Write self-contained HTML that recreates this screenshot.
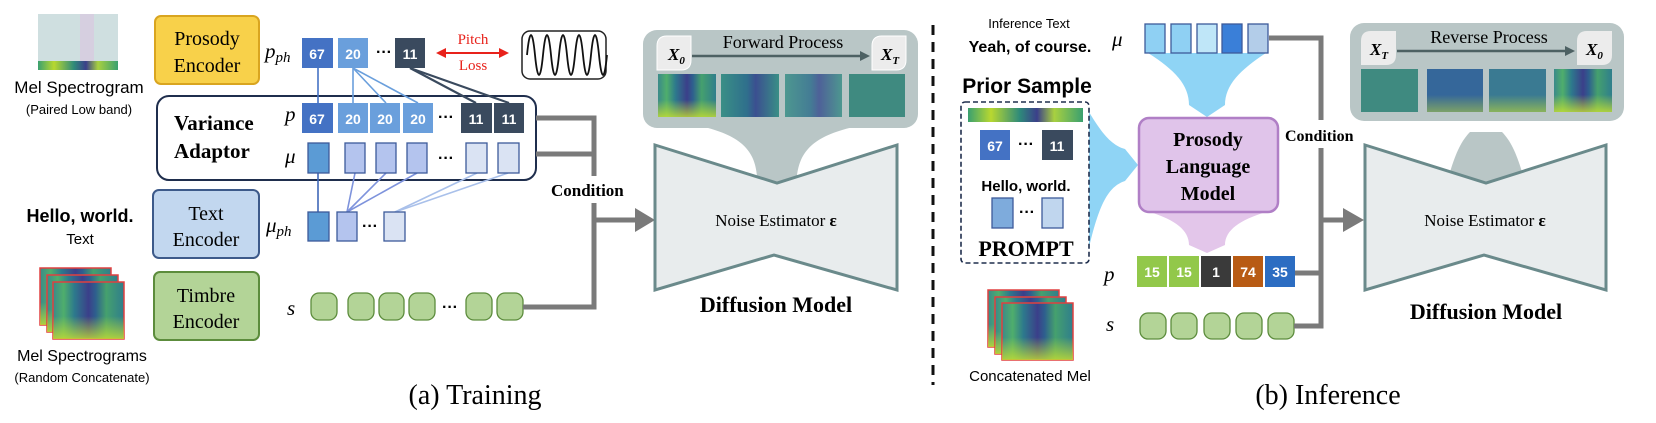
<!DOCTYPE html>
<html><head><meta charset="utf-8"><style>
html,body{margin:0;padding:0;background:#fff;}
svg{display:block}
.se{font-family:"Liberation Serif",serif}
.sa{font-family:"Liberation Sans",sans-serif}
.num{font-family:"Liberation Sans Narrow","Liberation Sans",sans-serif;font-weight:bold;font-size:14px;fill:#fff;text-anchor:middle}
</style></head><body>
<svg width="1656" height="423" viewBox="0 0 1656 423" xmlns="http://www.w3.org/2000/svg">
<defs>
<linearGradient id="spA" x1="0" x2="1" y1="0" y2="0">
<stop offset="0" stop-color="#3a8a8a"/><stop offset="0.15" stop-color="#4fae6c"/><stop offset="0.3" stop-color="#2d7a8c"/><stop offset="0.5" stop-color="#3b3f8a"/><stop offset="0.6" stop-color="#2e5f8e"/><stop offset="0.75" stop-color="#45a06e"/><stop offset="1" stop-color="#2f7e8c"/>
</linearGradient>
<linearGradient id="spB" x1="0" x2="1"><stop offset="0" stop-color="#3a8f86"/><stop offset="0.45" stop-color="#2f6f8c"/><stop offset="0.6" stop-color="#3b4f90"/><stop offset="1" stop-color="#3a8f86"/></linearGradient>
<linearGradient id="yel" x1="0" x2="0" y1="0" y2="1"><stop offset="0.6" stop-color="#c8e030" stop-opacity="0"/><stop offset="1" stop-color="#c8e030" stop-opacity="0.8"/></linearGradient>
<linearGradient id="band" x1="0" x2="1"><stop offset="0" stop-color="#3aa070"/><stop offset="0.2" stop-color="#b8d830"/><stop offset="0.45" stop-color="#2e8a7a"/><stop offset="0.6" stop-color="#3b3f8a"/><stop offset="0.75" stop-color="#a8d040"/><stop offset="1" stop-color="#3aa070"/></linearGradient>
<g id="mel"><rect width="71" height="57" fill="url(#spA)" stroke="#e04040" stroke-width="1.5"/><rect width="71" height="57" fill="url(#yel)"/></g>
</defs>

<!-- ===== (a) Training ===== -->
<rect x="38" y="14" width="80" height="56" fill="#cfdfe0"/>
<rect x="80" y="14" width="14" height="47" fill="#d6cfe0"/>
<rect x="38" y="61" width="80" height="9" fill="url(#band)"/>
<text class="sa" x="79" y="93" font-size="17" text-anchor="middle">Mel Spectrogram</text>
<text class="sa" x="79" y="114" font-size="13" text-anchor="middle">(Paired Low band)</text>
<text class="sa" x="80" y="222" font-size="18" font-weight="bold" text-anchor="middle">Hello, world.</text>
<text class="sa" x="80" y="244" font-size="15" text-anchor="middle">Text</text>
<use href="#mel" x="40" y="268"/><use href="#mel" x="47" y="275"/><use href="#mel" x="53" y="282"/>
<text class="sa" x="82" y="361" font-size="16" text-anchor="middle">Mel Spectrograms</text>
<text class="sa" x="82" y="382" font-size="13" text-anchor="middle">(Random Concatenate)</text>

<rect x="155" y="16" width="104" height="68" rx="6" fill="#f8d14a" stroke="#d9a520" stroke-width="2"/>
<text class="se" x="207" y="45" font-size="20" text-anchor="middle">Prosody</text>
<text class="se" x="207" y="72" font-size="20" text-anchor="middle">Encoder</text>
<rect x="157" y="96" width="379" height="84" rx="12" fill="#fff" stroke="#1f2e4d" stroke-width="2"/>
<text class="se" x="174" y="130" font-size="21" font-weight="bold">Variance</text>
<text class="se" x="174" y="158" font-size="21" font-weight="bold">Adaptor</text>
<rect x="153" y="190" width="106" height="68" rx="6" fill="#c2d7ef" stroke="#3d5a8a" stroke-width="2"/>
<text class="se" x="206" y="220" font-size="20" text-anchor="middle">Text</text>
<text class="se" x="206" y="246" font-size="20" text-anchor="middle">Encoder</text>
<rect x="154" y="272" width="105" height="68" rx="6" fill="#b3d497" stroke="#5c8c3c" stroke-width="2"/>
<text class="se" x="206" y="302" font-size="20" text-anchor="middle">Timbre</text>
<text class="se" x="206" y="328" font-size="20" text-anchor="middle">Encoder</text>

<g class="se" font-style="italic" font-size="21">
<text x="265" y="58">p<tspan font-size="15" dy="4">ph</tspan></text>
<text x="285" y="121">p</text>
<text x="285" y="163">μ</text>
<text x="266" y="232">μ<tspan font-size="15" dy="4">ph</tspan></text>
<text x="287" y="315">s</text>
</g>

<!-- connectors -->
<g stroke-width="1.6" fill="none">
<line x1="318" y1="68" x2="318" y2="103" stroke="#4472c4"/>
<line x1="353" y1="68" x2="353" y2="103" stroke="#6a9fdc"/>
<line x1="353" y1="68" x2="386" y2="103" stroke="#6a9fdc"/>
<line x1="353" y1="68" x2="418" y2="103" stroke="#6a9fdc"/>
<line x1="410" y1="68" x2="476" y2="103" stroke="#3a4a5e" stroke-width="2.2"/>
<line x1="410" y1="68" x2="509" y2="103" stroke="#3a4a5e" stroke-width="2.2"/>
<line x1="318" y1="173" x2="318" y2="212" stroke="#3f67b8"/>
<line x1="347" y1="212" x2="355" y2="173" stroke="#7e93dc"/>
<line x1="347" y1="212" x2="386" y2="173" stroke="#7e93dc"/>
<line x1="347" y1="212" x2="417" y2="173" stroke="#7e93dc"/>
<line x1="395" y1="212" x2="477" y2="173" stroke="#a9c0ea"/>
<line x1="395" y1="212" x2="508" y2="173" stroke="#a9c0ea"/>
</g>

<!-- p_ph -->
<rect x="302" y="38" width="31" height="30" fill="#4472c4"/><text class="num" x="317" y="59">67</text>
<rect x="338" y="38" width="30" height="30" fill="#6a9fdc"/><text class="num" x="353" y="59">20</text>
<text x="384" y="57" font-size="16" font-weight="bold" text-anchor="middle" class="sa">···</text>
<rect x="395" y="38" width="30" height="30" fill="#3a4a5e"/><text class="num" x="410" y="59">11</text>
<!-- pitch loss -->
<line x1="444" y1="53" x2="501" y2="53" stroke="#e8221b" stroke-width="2"/>
<polygon points="436,53 446,48 446,58" fill="#e8221b"/><polygon points="509,53 499,48 499,58" fill="#e8221b"/>
<text class="se" x="473" y="44" font-size="15" fill="#e8221b" text-anchor="middle">Pitch</text>
<text class="se" x="473" y="70" font-size="15" fill="#e8221b" text-anchor="middle">Loss</text>
<rect x="522" y="31" width="84" height="48" rx="8" fill="#fff" stroke="#222" stroke-width="1.5"/>
<path d="M527,55 q4,-40 8,0 t8,0 t8,0 t8,0 t8,0 t8,0 t8,0 t8,0 t8,0 t8,0" fill="none" stroke="#111" stroke-width="1.8"/>

<!-- p row -->
<rect x="302" y="103" width="31" height="30" fill="#4472c4"/><text class="num" x="317" y="124">67</text>
<rect x="338" y="103" width="30" height="30" fill="#6a9fdc"/><text class="num" x="353" y="124">20</text>
<rect x="370" y="103" width="30" height="30" fill="#6a9fdc"/><text class="num" x="385" y="124">20</text>
<rect x="403" y="103" width="30" height="30" fill="#6a9fdc"/><text class="num" x="418" y="124">20</text>
<text x="446" y="122" font-size="16" font-weight="bold" text-anchor="middle" class="sa">···</text>
<rect x="461" y="103" width="31" height="30" fill="#3a4a5e"/><text class="num" x="476" y="124">11</text>
<rect x="494" y="103" width="30" height="30" fill="#3a4a5e"/><text class="num" x="509" y="124">11</text>
<!-- mu row -->
<g stroke="#3d5a9a" stroke-width="1.3">
<rect x="308" y="143" width="21" height="30" fill="#5b9bd5"/>
<rect x="345" y="143" width="20" height="30" fill="#b4c4ee"/>
<rect x="376" y="143" width="20" height="30" fill="#b4c4ee"/>
<rect x="407" y="143" width="20" height="30" fill="#b4c4ee"/>
<rect x="466" y="143" width="21" height="30" fill="#dae3f3"/>
<rect x="498" y="143" width="21" height="30" fill="#dae3f3"/>
<rect x="308" y="212" width="21" height="29" fill="#5b9bd5"/>
<rect x="337" y="212" width="20" height="29" fill="#b4c4ee"/>
<rect x="384" y="212" width="21" height="29" fill="#dae3f3"/>
</g>
<text x="446" y="163" font-size="16" font-weight="bold" text-anchor="middle" class="sa">···</text>
<text x="370" y="231" font-size="16" font-weight="bold" text-anchor="middle" class="sa">···</text>
<!-- s row -->
<g fill="#b3d497" stroke="#5c8c3c" stroke-width="1.3">
<rect x="311" y="293" width="26" height="27" rx="8"/><rect x="348" y="293" width="26" height="27" rx="8"/>
<rect x="379" y="293" width="25" height="27" rx="8"/><rect x="409" y="293" width="26" height="27" rx="8"/>
<rect x="466" y="293" width="26" height="27" rx="8"/><rect x="497" y="293" width="26" height="27" rx="8"/>
</g>
<text x="450" y="312" font-size="16" font-weight="bold" text-anchor="middle" class="sa">···</text>

<!-- condition left -->
<g stroke="#7a7a7a" stroke-width="5" fill="none">
<polyline points="536,118 594,118 594,176"/>
<line x1="536" y1="154" x2="594" y2="154"/>
<polyline points="594,203 594,307 523,307"/>
<line x1="594" y1="220" x2="637" y2="220"/>
</g>
<polygon points="635,208 655,220 635,232" fill="#7a7a7a"/>
<text class="se" x="551" y="196" font-size="17" font-weight="bold">Condition</text>

<!-- forward diffusion -->
<path d="M700,126 C740,135 755,150 757,176 L777,183 L797,176 C800,150 815,135 858,126 Z" fill="#b9c6c6"/>
<rect x="643" y="30" width="275" height="98" rx="14" fill="#b9c6c6"/>
<path d="M657,46 Q657,36 667,36 L691,36 L691,60 Q691,70 681,70 L657,70 Z" fill="#ececec" stroke="#fff" stroke-width="1"/>
<path d="M872,46 Q872,36 882,36 L906,36 L906,60 Q906,70 896,70 L872,70 Z" fill="#ececec" stroke="#fff" stroke-width="1"/>
<text class="se" x="668" y="60" font-size="17" font-weight="bold" font-style="italic">X<tspan font-size="11" dy="4">0</tspan></text>
<text class="se" x="881" y="60" font-size="17" font-weight="bold" font-style="italic">X<tspan font-size="11" dy="4">T</tspan></text>
<line x1="692" y1="56" x2="862" y2="56" stroke="#4d6163" stroke-width="2.5"/>
<polygon points="860,51 870,56 860,61" fill="#4d6163"/>
<text class="se" x="783" y="48" font-size="18" text-anchor="middle">Forward Process</text>
<rect x="658" y="74" width="58" height="43" fill="url(#spA)"/><rect x="658" y="74" width="58" height="43" fill="url(#yel)"/>
<rect x="721" y="74" width="58" height="43" fill="url(#spB)"/>
<rect x="785" y="74" width="57" height="43" fill="url(#spB)" opacity="0.85"/>
<rect x="849" y="74" width="56" height="43" fill="#3f8a80"/>
<path d="M655,145 L777,183 L897,145 L897,290 L774,255 L655,290 Z" fill="#e8eced" stroke="#6a8a8b" stroke-width="3"/>
<text class="se" x="776" y="226" font-size="17" text-anchor="middle">Noise Estimator <tspan font-weight="bold">ε</tspan></text>
<text class="se" x="776" y="312" font-size="22" font-weight="bold" text-anchor="middle">Diffusion Model</text>
<text class="se" x="475" y="404" font-size="28" text-anchor="middle">(a) Training</text>

<!-- divider -->
<line x1="933" y1="25" x2="933" y2="385" stroke="#111" stroke-width="3" stroke-dasharray="10,7"/>

<!-- ===== (b) Inference ===== -->
<text class="sa" x="1029" y="28" font-size="13" text-anchor="middle">Inference Text</text>
<text class="sa" x="1030" y="52" font-size="16" font-weight="bold" text-anchor="middle">Yeah, of course.</text>
<text class="sa" x="1027" y="93" font-size="21" font-weight="bold" text-anchor="middle">Prior Sample</text>
<path d="M1089,112 C1100,130 1110,145 1125,149 L1138,165 L1125,181 C1110,186 1100,200 1089,248 Z" fill="#8fd4f5"/>
<rect x="961" y="102" width="128" height="161" rx="4" fill="#fff" stroke="#1f2e4d" stroke-width="1.6" stroke-dasharray="5,3"/>
<rect x="968" y="108" width="115" height="14" fill="url(#band)"/>
<rect x="980" y="130" width="30" height="30" fill="#4472c4"/><text class="num" x="995" y="151">67</text>
<text x="1026" y="149" font-size="16" font-weight="bold" text-anchor="middle" class="sa">···</text>
<rect x="1042" y="130" width="31" height="30" fill="#3a4a5e"/><text class="num" x="1057" y="151">11</text>
<text class="sa" x="1026" y="191" font-size="15" font-weight="bold" text-anchor="middle">Hello, world.</text>
<rect x="992" y="198" width="21" height="30" fill="#7eabdc" stroke="#3d5a9a" stroke-width="1.3"/>
<text x="1027" y="217" font-size="16" font-weight="bold" text-anchor="middle" class="sa">···</text>
<rect x="1042" y="198" width="21" height="30" fill="#c0d6ee" stroke="#3d5a9a" stroke-width="1.3"/>
<text class="se" x="1026" y="256" font-size="22" font-weight="bold" text-anchor="middle">PROMPT</text>
<use href="#mel" x="988" y="290"/><use href="#mel" x="995" y="297"/><use href="#mel" x="1002" y="303"/>
<text class="sa" x="1030" y="381" font-size="15" text-anchor="middle">Concatenated Mel</text>

<path d="M1148,53 L1266,53 C1240,70 1225,85 1225,105 L1207,117 L1189,105 C1189,85 1175,70 1148,53 Z" fill="#8fd4f5"/>
<path d="M1150,212 L1266,212 C1240,220 1225,230 1225,245 L1207,253 L1189,245 C1189,230 1175,220 1150,212 Z" fill="#e3c6ea"/>
<text class="se" x="1112" y="46" font-size="21" font-style="italic">μ</text>
<g stroke="#3d5a9a" stroke-width="1.3">
<rect x="1145" y="24" width="20" height="29" fill="#8fd0f3"/>
<rect x="1171" y="24" width="20" height="29" fill="#8fd0f3"/>
<rect x="1197" y="24" width="20" height="29" fill="#bfe6f8"/>
<rect x="1222" y="24" width="20" height="29" fill="#3a7fd8"/>
<rect x="1248" y="24" width="20" height="29" fill="#b3cde9"/>
</g>
<rect x="1139" y="118" width="139" height="94" rx="10" fill="#e0c4ea" stroke="#b07fc6" stroke-width="2.5"/>
<g class="se" font-size="20" font-weight="bold" text-anchor="middle">
<text x="1208" y="146">Prosody</text><text x="1208" y="173">Language</text><text x="1208" y="200">Model</text></g>
<text class="se" x="1104" y="281" font-size="21" font-style="italic">p</text>
<text class="se" x="1106" y="331" font-size="21" font-style="italic">s</text>
<rect x="1137" y="256" width="30" height="31" fill="#92c84a"/><text class="num" x="1152" y="277">15</text>
<rect x="1169" y="256" width="30" height="31" fill="#92c84a"/><text class="num" x="1184" y="277">15</text>
<rect x="1201" y="256" width="30" height="31" fill="#3a3a3a"/><text class="num" x="1216" y="277">1</text>
<rect x="1233" y="256" width="30" height="31" fill="#b85b14"/><text class="num" x="1248" y="277">74</text>
<rect x="1265" y="256" width="30" height="31" fill="#2c6dc2"/><text class="num" x="1280" y="277">35</text>
<g fill="#b3d497" stroke="#5c8c3c" stroke-width="1.3">
<rect x="1140" y="313" width="26" height="26" rx="8"/><rect x="1171" y="313" width="26" height="26" rx="8"/>
<rect x="1204" y="313" width="26" height="26" rx="8"/><rect x="1236" y="313" width="26" height="26" rx="8"/>
<rect x="1268" y="313" width="26" height="26" rx="8"/></g>
<g stroke="#7a7a7a" stroke-width="5" fill="none">
<polyline points="1269,38 1321,38 1321,120"/>
<polyline points="1321,148 1321,326 1294,326"/>
<line x1="1295" y1="273" x2="1321" y2="273"/>
<line x1="1321" y1="220" x2="1345" y2="220"/>
</g>
<polygon points="1343,208 1364,220 1343,232" fill="#7a7a7a"/>
<text class="se" x="1285" y="141" font-size="16" font-weight="bold">Condition</text>

<!-- reverse -->
<path d="M1450,172 L1486,183 L1522,172 C1516,152 1510,140 1502,132 L1470,132 C1462,140 1456,152 1450,172 Z" fill="#b9c6c6"/>
<rect x="1350" y="23" width="274" height="98" rx="14" fill="#b9c6c6"/>
<path d="M1361,41 Q1361,31 1371,31 L1396,31 L1396,55 Q1396,65 1386,65 L1361,65 Z" fill="#ececec"/>
<path d="M1577,41 Q1577,31 1587,31 L1612,31 L1612,55 Q1612,65 1602,65 L1577,65 Z" fill="#ececec"/>
<text class="se" x="1370" y="55" font-size="17" font-weight="bold" font-style="italic">X<tspan font-size="11" dy="4">T</tspan></text>
<text class="se" x="1586" y="55" font-size="17" font-weight="bold" font-style="italic">X<tspan font-size="11" dy="4">0</tspan></text>
<line x1="1397" y1="51" x2="1567" y2="51" stroke="#4d6163" stroke-width="2.5"/>
<polygon points="1565,46 1575,51 1565,56" fill="#4d6163"/>
<text class="se" x="1489" y="43" font-size="18" text-anchor="middle">Reverse Process</text>
<rect x="1361" y="69" width="57" height="43" fill="#3f8a80"/>
<rect x="1427" y="69" width="56" height="43" fill="#35679a"/><rect x="1427" y="69" width="56" height="43" fill="url(#yel)" opacity="0.6"/>
<rect x="1489" y="69" width="57" height="43" fill="#3a7a92"/><rect x="1489" y="69" width="57" height="43" fill="url(#yel)" opacity="0.7"/>
<rect x="1554" y="69" width="58" height="43" fill="url(#spA)"/><rect x="1554" y="69" width="58" height="43" fill="url(#yel)"/>
<path d="M1365,145 L1486,183 L1606,145 L1606,290 L1484,255 L1365,290 Z" fill="#e8eced" stroke="#6a8a8b" stroke-width="3"/>
<text class="se" x="1485" y="226" font-size="17" text-anchor="middle">Noise Estimator <tspan font-weight="bold">ε</tspan></text>
<text class="se" x="1486" y="319" font-size="22" font-weight="bold" text-anchor="middle">Diffusion Model</text>
<text class="se" x="1328" y="404" font-size="28" text-anchor="middle">(b) Inference</text>
</svg>
</body></html>
